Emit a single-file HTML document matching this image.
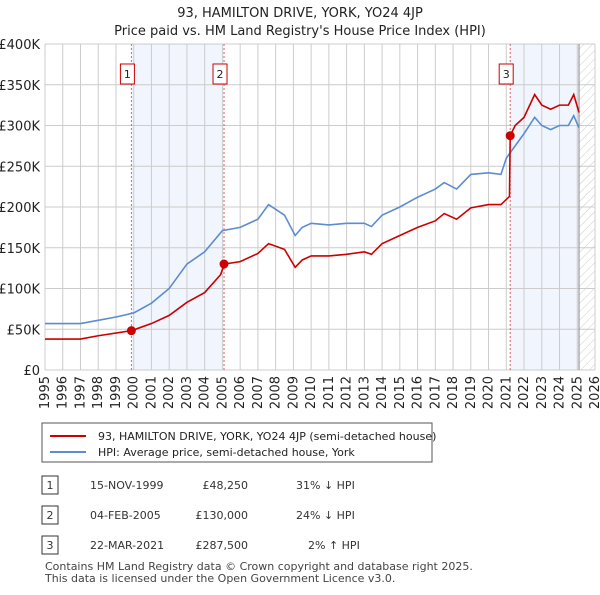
<!DOCTYPE html>
<html><head><meta charset="utf-8"><style>
body{margin:0;background:#fff;font-family:"Liberation Sans","DejaVu Sans",sans-serif;}
svg text{font-family:"DejaVu Sans","Liberation Sans",sans-serif;}
</style></head><body>
<svg id="c" width="600" height="590">
<defs><pattern id="hatch" width="6" height="6" patternUnits="userSpaceOnUse" patternTransform="rotate(45)"><line x1="0" y1="0" x2="0" y2="6" stroke="#ccc" stroke-width="1"/></pattern></defs>
<text x="300" y="17" text-anchor="middle" font-size="13" fill="#222">93, HAMILTON DRIVE, YORK, YO24 4JP</text>
<text x="300" y="35" text-anchor="middle" font-size="13" fill="#222">Price paid vs. HM Land Registry's House Price Index (HPI)</text>
<g id="plot"></g>
<g>
<rect x="42" y="423" width="390" height="39" fill="#fff" stroke="#555"/>
<line x1="50" y1="436" x2="86" y2="436" stroke="#cc0000" stroke-width="2"/>
<text x="98" y="440" font-size="11" fill="#222">93, HAMILTON DRIVE, YORK, YO24 4JP (semi-detached house)</text>
<line x1="50" y1="452" x2="86" y2="452" stroke="#5b8dd0" stroke-width="2"/>
<text x="98" y="456" font-size="11" fill="#222">HPI: Average price, semi-detached house, York</text>
</g>
<g font-size="11" fill="#333">
<rect x="42" y="476" width="16" height="18" fill="#fff" stroke="#333"/><text x="50" y="489" text-anchor="middle">1</text>
<text x="90" y="489">15-NOV-1999</text><text x="248" y="489" text-anchor="end">£48,250</text><text x="296" y="489">31% ↓ HPI</text>
<rect x="42" y="506" width="16" height="18" fill="#fff" stroke="#333"/><text x="50" y="519" text-anchor="middle">2</text>
<text x="90" y="519">04-FEB-2005</text><text x="248" y="519" text-anchor="end">£130,000</text><text x="296" y="519">24% ↓ HPI</text>
<rect x="42" y="536" width="16" height="18" fill="#fff" stroke="#333"/><text x="50" y="549" text-anchor="middle">3</text>
<text x="90" y="549">22-MAR-2021</text><text x="248" y="549" text-anchor="end">£287,500</text><text x="308" y="549">2% ↑ HPI</text>
</g>
<text x="45" y="570" font-size="11" fill="#444">Contains HM Land Registry data © Crown copyright and database right 2025.</text>
<text x="45" y="582" font-size="11" fill="#444">This data is licensed under the Open Government Licence v3.0.</text>
</svg>
<script>
const yTicks=[0,50,100,150,200,250,300,350,400];
const xYears=[1995,1996,1997,1998,1999,2000,2001,2002,2003,2004,2005,2006,2007,2008,2009,2010,2011,2012,2013,2014,2015,2016,2017,2018,2019,2020,2021,2022,2023,2024,2025,2026];
const hpiT=[1995,1997,1998,1999,2000,2001,2002,2003,2004,2005,2006,2007,2007.6,2008.5,2009.1,2009.5,2010,2011,2012,2013,2013.4,2014,2015,2016,2017,2017.5,2018.2,2019,2020,2020.7,2021,2021.5,2022,2022.6,2023,2023.5,2024,2024.5,2024.8,2025.1];
const hpiV=[57,57,61,65,70,82,100,130,145,171,175,185,203,190,165,175,180,178,180,180,176,190,200,212,222,230,222,240,242,240,260,275,290,310,300,295,300,300,312,297];
const ppT=[1995,1997,1998,1999.87,2001,2002,2003,2004,2004.9,2005.1,2006,2007,2007.6,2008.5,2009.1,2009.5,2010,2011,2012,2013,2013.4,2014,2015,2016,2017,2017.5,2018.2,2019,2020,2020.7,2021.18,2021.22,2021.5,2022,2022.6,2023,2023.5,2024,2024.5,2024.8,2025.1];
const ppV=[38,38,42,48.25,57,67,83,95,117,130,133,143,155,148,126,135,140,140,142,145,142,155,165,175,183,192,185,199,203,203,213,287.5,300,310,338,325,320,325,325,338,316];
const saleT=[1999.87,2005.09,2021.22];
const saleV=[48.25,130,287.5];
const saleLabels=["1","2","3"];
const X=t=>45+(t-1995)*(550/31), Y=v=>370-v*0.815;
const NS="http://www.w3.org/2000/svg", g=document.getElementById('plot');
function mk(tag,a,p){const e=document.createElementNS(NS,tag);for(const k in a)e.setAttribute(k,a[k]);(p||g).appendChild(e);return e;}
let e;
e=mk('rect',{x:X(saleT[0]),y:44,width:X(saleT[1])-X(saleT[0]),height:326,fill:'#eef3fc',opacity:0.8});


e=mk('rect',{x:X(saleT[2]),y:44,width:X(2025.1)-X(saleT[2]),height:326,fill:'#eef3fc',opacity:0.8});


e=mk('rect',{x:X(2025.1),y:44,width:X(2026)-X(2025.1),height:326,fill:'url(#hatch)'});


yTicks.forEach(v=>{e=mk('line',{x1:45,x2:X(2026),y1:Y(v*1),y2:Y(v*1),stroke:'#ccc'});


e=mk('text',{x:40,y:Y(v)+5,'text-anchor':'end','font-size':13,fill:'#222'});e.textContent=v?'£'+v+'K':'£0';

});
xYears.forEach(t=>{e=mk('line',{x1:X(t),x2:X(t),y1:44,y2:370,stroke:'#ccc'});


e=mk('text',{x:X(t)+4,y:376,'text-anchor':'end','font-size':13,fill:'#222',transform:`rotate(-90 ${X(t)+4} 376)`});e.textContent=t;

});
e=mk('line',{x1:X(2025.1),x2:X(2025.1),y1:44,y2:370,stroke:'#888'});


saleT.forEach((t,i)=>{e=mk('line',{x1:X(t),x2:X(t),y1:44,y2:370,stroke:'#e06060','stroke-dasharray':'2,2'});

});
e=mk('polyline',{points:hpiT.map((t,i)=>X(t)+','+Y(hpiV[i])).join(' '),fill:'none',stroke:'#5b8dd0','stroke-width':1.6});


e=mk('polyline',{points:ppT.map((t,i)=>X(t)+','+Y(ppV[i])).join(' '),fill:'none',stroke:'#cc0000','stroke-width':1.6});


saleT.forEach((t,i)=>{e=mk('circle',{cx:X(t),cy:Y(saleV[i]),r:4.5,fill:'#cc0000'});


e=mk('rect',{x:X(t)-11,y:64,width:14,height:20,fill:'#fff',stroke:'#cc0000'});


e=mk('text',{x:X(t)-4,y:78,'text-anchor':'middle','font-size':11,fill:'#222'});e.textContent=saleLabels[i];

});
</script>
</body></html>
